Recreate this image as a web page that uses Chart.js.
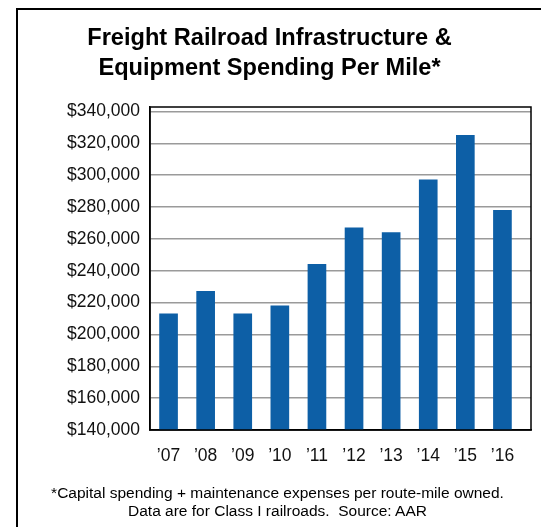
<!DOCTYPE html>
<html>
<head>
<meta charset="utf-8">
<script src="https://cdn.jsdelivr.net/npm/chart.js@4"></script>
<style>
  html, body { margin: 0; padding: 0; background: #fff; }
  body { width: 541px; height: 527px; overflow: hidden; position: relative; font-family: Arial, "Liberation Sans", sans-serif; color: #000; }
  #frame { position: absolute; left: 16px; top: 8px; width: 700px; height: 700px; border-left: 2px solid #000; border-top: 2px solid #000; }
  #title { position: absolute; left: -1px; top: 22px; width: 541px; text-align: center; font-weight: bold; font-size: 23.6px; line-height: 30px; }
  #note { position: absolute; left: 7px; top: 484px; width: 541px; text-align: center; font-size: 15.5px; line-height: 18px; }
  canvas { position: absolute; left: 0; top: 0; }
</style>
</head>
<body>
<div id="frame"></div>
<canvas id="spendChart" width="541" height="527"></canvas>
<div id="title">Freight Railroad Infrastructure &amp;<br>Equipment Spending Per Mile*</div>
<div id="note">*Capital spending + maintenance expenses per route-mile owned.<br>Data are for Class I railroads.&nbsp; Source: AAR</div>

<script>
// Spending per route-mile, Class I railroads
const years = ['\u201907', '\u201908', '\u201909', '\u201910', '\u201911', '\u201912', '\u201913', '\u201914', '\u201915', '\u201916'];
const spending = [213000, 227000, 213000, 218000, 244000, 267000, 264000, 297000, 325000, 278000];
const yTicks = [140000, 160000, 180000, 200000, 220000, 240000, 260000, 280000, 300000, 320000, 340000];

// plot frame around the chart area
const plotFrame = {
    id: 'plotFrame',
    afterDraw(chart) {
        const { ctx, chartArea } = chart;
        ctx.save();
        ctx.strokeStyle = '#000';
        ctx.lineWidth = 1.5;
        ctx.strokeRect(chartArea.left, chartArea.top, chartArea.right - chartArea.left, chartArea.bottom - chartArea.top);
        ctx.restore();
    }
};

const ctx = document.getElementById('spendChart').getContext('2d');
new Chart(ctx, {
    type: 'bar',
    data: {
        datasets: [{
            data: spending.map((v, i) => ({ x: i, y: v })),
            backgroundColor: '#0d5fa6',
            borderWidth: 0,
            barThickness: 18
        }]
    },
    options: {
        responsive: false,
        animation: false,
        layout: { padding: { left: 0, top: 107, right: 10, bottom: 57 } },
        plugins: {
            legend: { display: false },
            tooltip: { enabled: false }
        },
        scales: {
            x: {
                type: 'linear',
                offset: false,
                min: -0.5,
                max: 9.77,
                afterBuildTicks: (scale) => {
                    scale.ticks = years.map((y, i) => ({ value: i }));
                },
                afterFit: (scale) => { scale.height = 40; },
                grid: { display: false, drawTicks: false },
                border: { color: '#000', width: 1.5 },
                ticks: {
                    autoSkip: false,
                    maxRotation: 0,
                    padding: 16,
                    color: '#111',
                    font: { family: 'Arial, "Liberation Sans", sans-serif', size: 17.5 },
                    callback: (v) => years[v]
                }
            },
            y: {
                min: 140000,
                max: 342800,
                afterBuildTicks: (scale) => {
                    scale.ticks = yTicks.map(v => ({ value: v }));
                },
                afterFit: (scale) => { scale.width = 150; },
                grid: { color: '#9a9a9a', lineWidth: 1.5, drawTicks: false },
                border: { color: '#000', width: 1.5 },
                ticks: {
                    padding: 10,
                    color: '#111',
                    font: { family: 'Arial, "Liberation Sans", sans-serif', size: 17.5 },
                    callback: (v) => '$' + v.toLocaleString('en-US')
                }
            }
        }
    },
    plugins: [plotFrame]
});
</script>
</body>
</html>
